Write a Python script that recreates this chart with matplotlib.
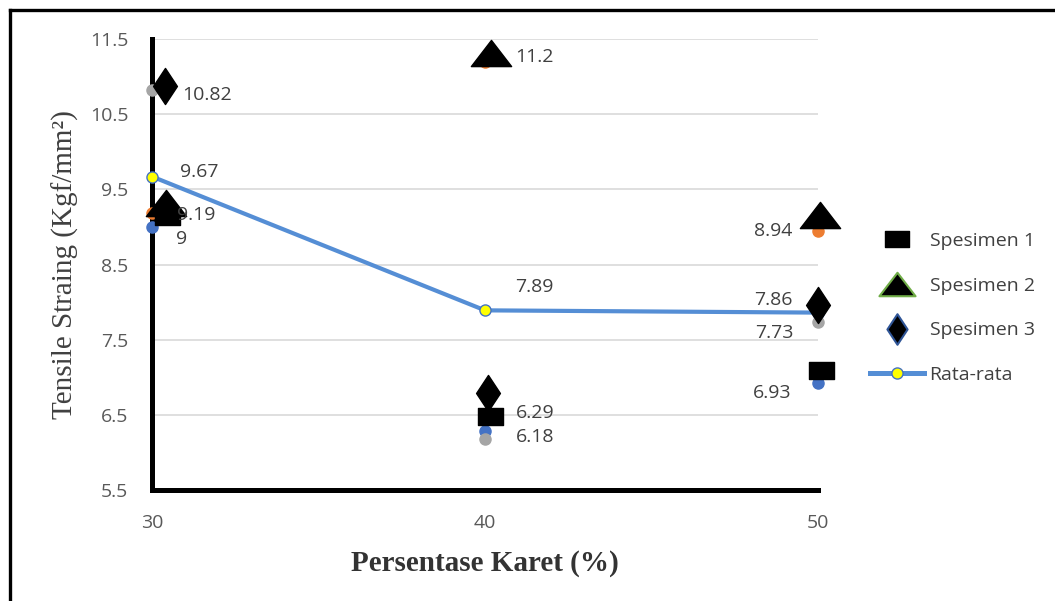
import matplotlib.pyplot as plt
from matplotlib.path import Path
from matplotlib.lines import Line2D
from matplotlib.transforms import offset_copy

# kadar karet (%) dan hasil uji tarik tiap spesimen
persen = [30, 40, 50]
spesimen1 = [9.00, 6.29, 6.93]
spesimen2 = [9.19, 11.2, 8.94]
spesimen3 = [10.82, 6.18, 7.73]
rata = [9.67, 7.89, 7.86]

yticks = [5.5, 6.5, 7.5, 8.5, 9.5, 10.5, 11.5]
xticks = [30, 40, 50]

# geser simbol hitam dan label angka (pixel, + ke atas)
geser_s1 = [(15, 11), (5, 15), (3, 13)]
geser_s2 = [(14, 10), (6, 9), (2, 16)]
geser_s3 = [(13, 4), (3, 46), (0, 17)]
lbl_s1 = [(24, -10, 'left'), (31, 20, 'left'), (-27, -8, 'right')]
lbl_s2 = [(25, 0, 'left'), (30, 7, 'left'), (-26, 2, 'right')]
lbl_s3 = [(30, -3, 'left'), (31, 4, 'left'), (-25, -9, 'right')]
lbl_avg = [(28, 7, 'left'), (30, 25, 'left'), (-25, 15, 'right')]

kotak = Path([(-1, -0.68), (1, -0.68), (1, 0.68), (-1, 0.68), (-1, -0.68)], closed=True)
segitiga = Path([(0, 0.65), (-1, -0.65), (1, -0.65), (0, 0.65)], closed=True)
belah = Path([(0, 1), (0.66, 0), (0, -1), (-0.66, 0), (0, 1)], closed=True)

plt.rcParams['font.family'] = ['Open Sans', 'DejaVu Sans']
abu = '#595959'
biru = '#558ED5'

fig = plt.figure(figsize=(10.55, 6.01), dpi=100)
ax = fig.add_axes([152/1055, 1 - 490/601, 666/1055, 451/601])

ax.set_xlim(30, 50)
ax.set_ylim(5.5, 11.5)
ax.set_yticks(yticks)
ax.set_xticks(xticks)
ax.set_yticklabels([f"{v:g}" for v in yticks])
ax.yaxis.grid(True, color='#D9D9D9', lw=1.2)
ax.set_axisbelow(True)
ax.tick_params(length=0, labelsize=14, labelcolor=abu)
ax.tick_params(axis='y', pad=17)
ax.tick_params(axis='x', pad=17)
for s in ['top', 'right']:
    ax.spines[s].set_visible(False)
for s in ['left', 'bottom']:
    ax.spines[s].set_linewidth(3.6)
    ax.spines[s].set_color('black')
    ax.spines[s].set_capstyle('projecting')

# garis rata-rata
ax.plot(persen, rata, color=biru, lw=3, zorder=3, marker='o', ms=8,
        mfc='#FFFF00', mec='#4472C4', mew=1, clip_on=False)

# titik data asli
for data, c in [(spesimen1, '#4472C4'), (spesimen2, '#ED7D31'), (spesimen3, '#A5A5A5')]:
    ax.plot(persen, data, ls='none', marker='o', ms=8, color=c, zorder=4, clip_on=False)

# simbol hitam di atas titik
for data, geser, mk, ms in [(spesimen1, geser_s1, kotak, 18),
                            (spesimen2, geser_s2, segitiga, 29),
                            (spesimen3, geser_s3, belah, 26)]:
    for x, y, (dx, dy) in zip(persen, data, geser):
        tr = offset_copy(ax.transData, fig=fig, x=dx, y=dy, units='dots')
        ax.plot([x], [y], ls='none', marker=mk, ms=ms, color='black',
                transform=tr, zorder=5, clip_on=False)

# label angka
for data, lbl in [(spesimen1, lbl_s1), (spesimen2, lbl_s2),
                  (spesimen3, lbl_s3), (rata, lbl_avg)]:
    for x, y, (dx, dy, ha) in zip(persen, data, lbl):
        ax.annotate(f"{y:g}", xy=(x, y), xytext=(dx, dy), textcoords='offset pixels',
                    ha=ha, va='center_baseline', fontsize=14, color='#404040', zorder=6)

ax.set_ylabel("Tensile Straing (Kgf/mm²)", family='Liberation Serif',
              fontsize=21, color='#404040')
ax.yaxis.set_label_coords(-73/666, 0.5)
ax.set_xlabel("Persentase Karet (%)", family='Liberation Serif', fontsize=21,
              fontweight='bold', color='#333333')
ax.xaxis.set_label_coords(0.5, -60/451)

handles = [
    Line2D([], [], ls='none', marker=kotak, ms=17, color='black'),
    Line2D([], [], ls='none', marker=segitiga, ms=26, mfc='black', mec='#70AD47', mew=1.5),
    Line2D([], [], ls='none', marker=belah, ms=22, mfc='black', mec='#2F5597', mew=1.5),
    Line2D([], [], color=biru, lw=3.6, marker='o', ms=8, mfc='#FFFF00', mec='#4472C4'),
]
names = ["Spesimen 1", "Spesimen 2", "Spesimen 3", "Rata-rata"]
fig.legend(handles, names, loc='center left', bbox_to_anchor=(870/1055, 1 - 308/601),
           frameon=False, fontsize=14, labelcolor='#404040', handlelength=2.8,
           handletextpad=0.26, borderpad=0, borderaxespad=0, labelspacing=1.37)

# bingkai
fig.add_artist(Line2D([10/1055, 10/1055], [0, 1 - 9.5/601], transform=fig.transFigure,
                      color='black', lw=2.4))
fig.add_artist(Line2D([10/1055, 1], [1 - 9.5/601, 1 - 9.5/601], transform=fig.transFigure,
                      color='black', lw=2.4))

fig.savefig('out.png', dpi=100)
